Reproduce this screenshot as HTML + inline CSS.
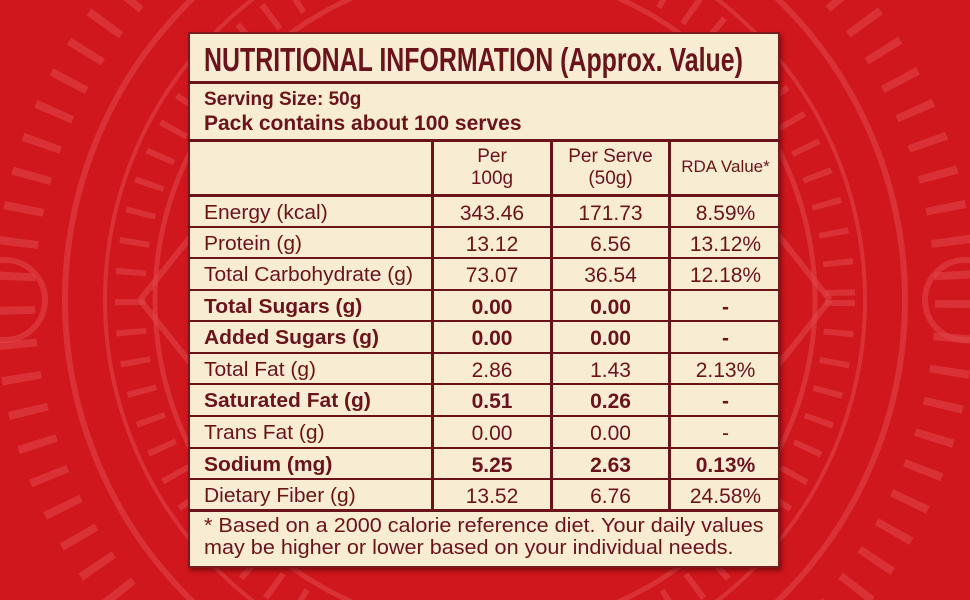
<!DOCTYPE html><html><head><style>
html,body{margin:0;width:970px;height:600px;overflow:hidden}
body{background:#d0171d;font-family:"Liberation Sans",sans-serif;position:relative}
.t{position:absolute;color:#6a1419;white-space:nowrap}
.h{position:absolute;background:#6a1419}
.c{text-align:center}
</style></head><body>
<svg width="970" height="600" style="position:absolute;left:0;top:0">
<g fill="none" stroke="#e0474a" stroke-opacity="0.55">
<circle cx="485" cy="300" r="420" stroke-width="6"/>
<circle cx="485" cy="300" r="380" stroke-width="4"/>
<circle cx="485" cy="300" r="330" stroke-width="5"/>
<circle cx="485" cy="300" r="470" stroke-width="40" stroke-dasharray="8 26"/>
<circle cx="485" cy="300" r="355" stroke-width="30" stroke-dasharray="6 24"/>
<path d="M140 300 L300 100 M140 300 L300 500 M830 300 L670 100 M830 300 L670 500" stroke-width="6"/>
<circle cx="5" cy="300" r="40" stroke-width="6"/><circle cx="965" cy="300" r="40" stroke-width="6"/>
</g></svg>
<div style="position:absolute;left:188px;top:32px;width:592px;height:536px;background:#f8ecd3;box-shadow:2px 3px 4px rgba(60,0,0,.5);border:2px solid #7a1a1e;box-sizing:border-box"></div>
<div class="h" style="left:188px;top:81px;width:592px;height:3px"></div>
<div class="h" style="left:188px;top:139px;width:592px;height:3px"></div>
<div class="h" style="left:188px;top:194px;width:592px;height:3px"></div>
<div class="h" style="left:188px;top:226px;width:592px;height:2px"></div>
<div class="h" style="left:188px;top:257px;width:592px;height:2px"></div>
<div class="h" style="left:188px;top:289px;width:592px;height:2px"></div>
<div class="h" style="left:188px;top:320px;width:592px;height:2px"></div>
<div class="h" style="left:188px;top:352px;width:592px;height:2px"></div>
<div class="h" style="left:188px;top:383px;width:592px;height:2px"></div>
<div class="h" style="left:188px;top:415px;width:592px;height:2px"></div>
<div class="h" style="left:188px;top:447px;width:592px;height:2px"></div>
<div class="h" style="left:188px;top:478px;width:592px;height:2px"></div>
<div class="h" style="left:188px;top:509px;width:592px;height:3px"></div>
<div class="h" style="left:431px;top:140px;width:3px;height:371px"></div>
<div class="h" style="left:550px;top:140px;width:3px;height:371px"></div>
<div class="h" style="left:668px;top:140px;width:3px;height:371px"></div>
<div class="t" style="left:204px;top:41px;font-size:33px;font-weight:bold;transform:scaleX(0.755);transform-origin:left">NUTRITIONAL INFORMATION (Approx. Value)</div>
<div class="t" style="left:204px;top:89px;font-size:19px;font-weight:bold">Serving Size: 50g</div>
<div class="t" style="left:204px;top:112px;font-size:21px;font-weight:bold">Pack contains about 100 serves</div>
<div class="t c" style="left:434px;width:116px;top:146px;font-size:19px;line-height:22px">Per<br>100g</div>
<div class="t c" style="left:553px;width:115px;top:146px;font-size:19px;line-height:22px">Per Serve<br>(50g)</div>
<div class="t c" style="left:671px;width:109px;top:157px;font-size:17px">RDA Value*</div>
<div id="rows"></div>
<div class="t" style="left:204px;top:515px;font-size:20px;line-height:22px;transform:scaleX(1.08);transform-origin:left">* Based on a 2000 calorie reference diet. Your daily values<br>may be higher or lower based on your individual needs.</div>
<script>
var r=[["Energy (kcal)","343.46","171.73","8.59%",0],["Protein (g)","13.12","6.56","13.12%",0],["Total Carbohydrate (g)","73.07","36.54","12.18%",0],["Total Sugars (g)","0.00","0.00","-",1],["Added Sugars (g)","0.00","0.00","-",1],["Total Fat (g)","2.86","1.43","2.13%",0],["Saturated Fat (g)","0.51","0.26","-",1],["Trans Fat (g)","0.00","0.00","-",0],["Sodium (mg)","5.25","2.63","0.13%",1],["Dietary Fiber (g)","13.52","6.76","24.58%",0]];
var tops=[197,228,259,291,322,354,385,417,449,480],h="";
r.forEach(function(a,i){var y=tops[i]+5,fw=a[4]?"bold":"normal";
h+='<div class="t" style="left:204px;top:'+y+'px;font-size:20px;font-weight:'+fw+';transform:scaleX(1.05);transform-origin:left">'+a[0]+'</div>';
[[434,116],[553,115],[671,109]].forEach(function(c,j){h+='<div class="t c" style="left:'+c[0]+'px;width:'+c[1]+'px;top:'+y+'px;font-size:21px;font-weight:'+fw+'">'+a[j+1]+'</div>';});});
document.getElementById("rows").innerHTML=h;
</script>
</body></html>
